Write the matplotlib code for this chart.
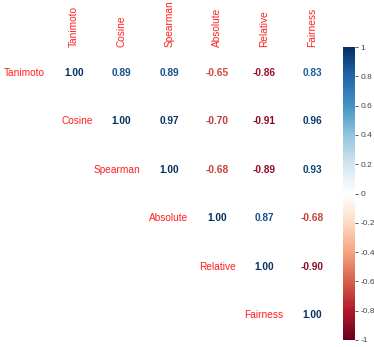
import numpy as np
import matplotlib
matplotlib.use("Agg")
import matplotlib.pyplot as plt
from matplotlib.colors import LinearSegmentedColormap, Normalize
from matplotlib.cm import ScalarMappable

# Data
names = ["Tanimoto", "Cosine", "Spearman", "Absolute", "Relative", "Fairness"]
tanimoto = [1.00, 0.89, 0.89, -0.65, -0.86, 0.83]
cosine = [0.89, 1.00, 0.97, -0.70, -0.91, 0.96]
spearman = [0.89, 0.97, 1.00, -0.68, -0.89, 0.93]
absolute = [-0.65, -0.70, -0.68, 1.00, 0.87, -0.68]
relative = [-0.86, -0.91, -0.89, 0.87, 1.00, -0.90]
fairness = [0.83, 0.96, 0.93, -0.68, -0.90, 1.00]
corr = np.array([tanimoto, cosine, spearman, absolute, relative, fairness])

cbar_ticks = [1, 0.8, 0.6, 0.4, 0.2, 0, -0.2, -0.4, -0.6, -0.8, -1]
cbar_labels = ["1", "0.8", "0.6", "0.4", "0.2", "0", "-0.2", "-0.4", "-0.6", "-0.8", "-1"]

# corrplot-style RdBu palette
col2 = ["#67001F", "#B2182B", "#D6604D", "#F4A582", "#FDDBC7", "#FFFFFF",
        "#D1E5F0", "#92C5DE", "#4393C3", "#2166AC", "#053061"]
cmap = LinearSegmentedColormap.from_list("col2", col2)
norm = Normalize(-1, 1)

plt.rcParams['font.family'] = ['Liberation Sans', 'DejaVu Sans']

W, H = 374, 347
fig = plt.figure(figsize=(W / 100, H / 100), dpi=100)

# main axes in pixel placement
x0, x1, y0, y1 = 50, 336, 49, 339
ax = fig.add_axes([x0 / W, 1 - y1 / H, (x1 - x0) / W, (y1 - y0) / H])
n = len(names)
ax.set_xlim(-0.5, n - 0.5)
ax.set_ylim(n - 0.5, -0.5)
ax.axis("off")

for i in range(n):
    for j in range(i, n):
        v = corr[i, j]
        ax.text(j, i, f"{v:.2f}", ha="center", va="center", fontsize=7.3,
                fontweight="bold", color=cmap(norm(v)))
    # row label left of diagonal cell
    ax.text(i - 0.6, i, names[i], ha="right", va="center", fontsize=7.3, color="#FF2020")
    # column label on top
    ax.text(i, -0.55, names[i], ha="center", va="bottom", rotation=90,
            fontsize=7.3, color="#FF2020")

# colorbar
cax = fig.add_axes([343 / W, 1 - 340 / H, 12 / W, (340 - 47) / H])
cb = fig.colorbar(ScalarMappable(norm=norm, cmap=cmap), cax=cax)
cb.outline.set_visible(False)
cb.set_ticks(cbar_ticks)
cb.set_ticklabels(cbar_labels)
cax.tick_params(labelsize=6, length=2, width=0.6, colors="#444444", pad=2)

fig.savefig("out.png", dpi=100)
